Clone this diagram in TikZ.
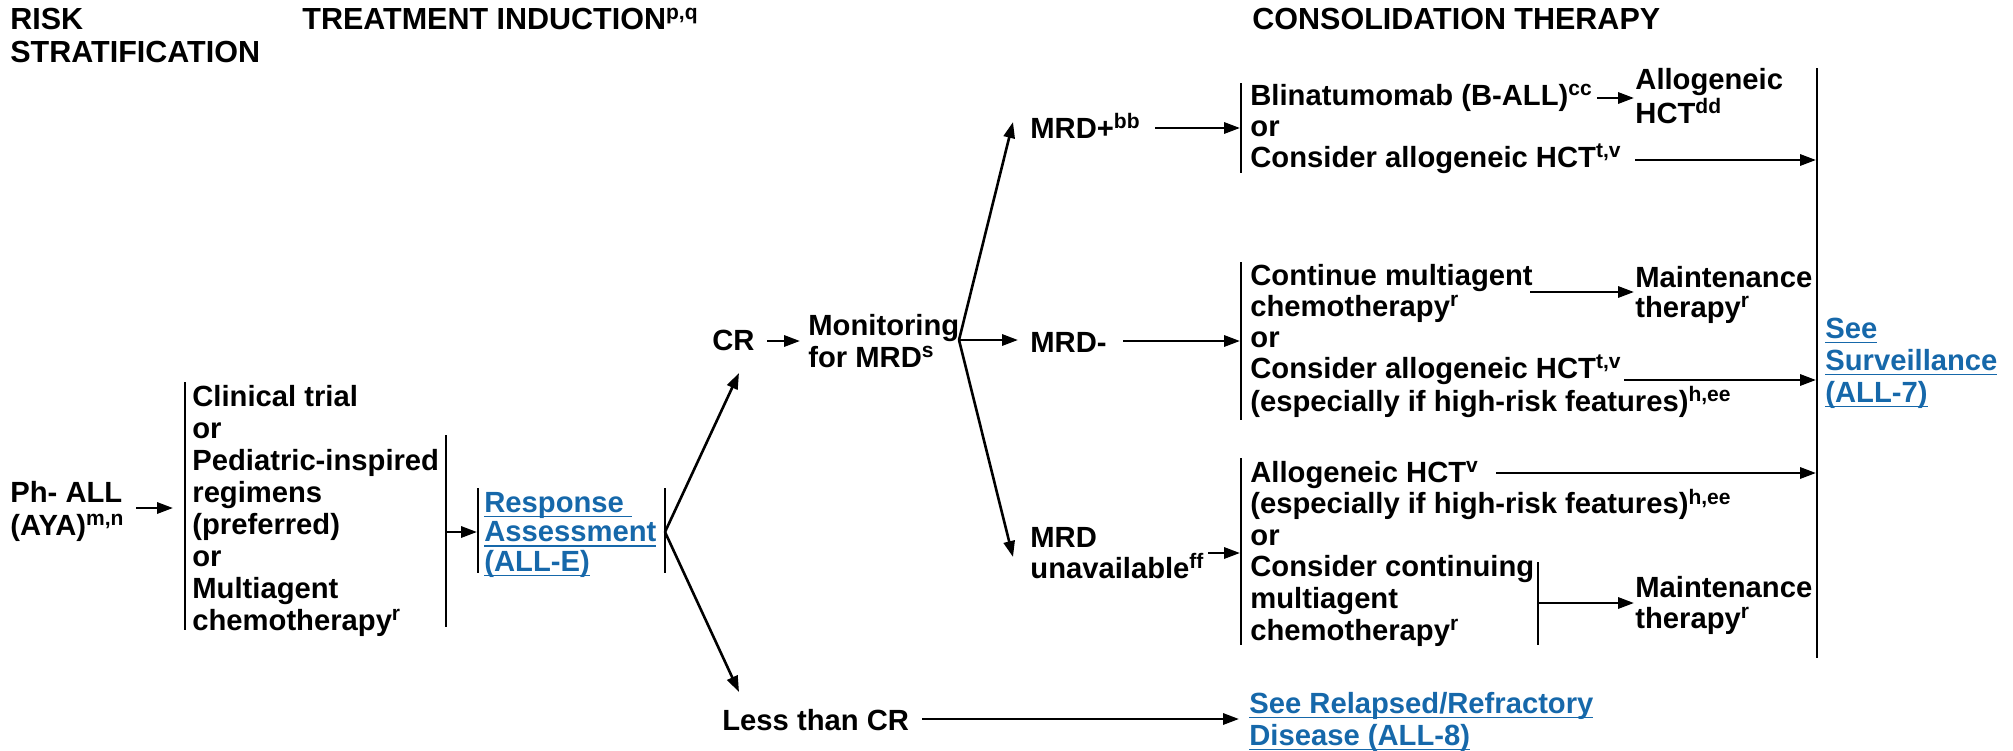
\documentclass[tikz,border=0pt]{standalone}
\usepackage{fontspec}
\setmainfont{Liberation Sans}
\usetikzlibrary{arrows.meta}
\definecolor{lnk}{RGB}{22,104,170}
\newcommand\sps[1]{\raisebox{4.8pt}{\fontsize{10.5}{10.5}\selectfont #1}}
\newcommand\lk[1]{\setbox0\hbox{#1}\rlap{\rule[-2.6pt]{\wd0}{0.75pt}}\box0}
\tikzset{
  txt/.style={font=\bfseries\fontsize{14.6}{15.75}\selectfont, align=left, anchor=base west, inner sep=0pt},
  hdr/.style={font=\bfseries\fontsize{15.25}{16.5}\selectfont, align=left, anchor=base west, inner sep=0pt},
  lnktxt/.style={txt, text=lnk},
  bar/.style={line width=1.3pt},
  arr/.style={line width=1.3pt, -{Triangle[length=8pt,width=5.6pt]}}
}
\begin{document}
% note: base anchor of a multi-line node = baseline of its last line
\begin{tikzpicture}[x=0.5pt,y=-0.5pt]
\useasboundingbox (0,0) rectangle (2013,750);
% headers
\node[hdr] (risk) at (10,62) {RISK\\STRATIFICATION};
\node[hdr] (ind) at (302,29) {TREATMENT INDUCTION\sps{p,q}};
\node[hdr] (cons) at (1252,29) {CONSOLIDATION THERAPY};
% left column
\node[txt,font=\bfseries\fontsize{14.6}{16.5}\selectfont] (ph) at (10,535) {Ph- ALL\\(AYA)\sps{m,n}};
\coordinate (phA) at (136,508);
\coordinate (phB) at (173,508);
\draw[arr] (phA) -- (phB);
\draw[bar] (185,382) coordinate (b1t) -- (185,630) coordinate (b1b);
\node[txt,font=\bfseries\fontsize{14.6}{15.95}\selectfont] (induct) at (192,630)
  {Clinical trial\\or\\Pediatric-inspired\\regimens\\(preferred)\\or\\Multiagent\\chemotherapy\sps{r}};
\draw[bar] (446,435) coordinate (b2t) -- (446,627) coordinate (b2b);
\coordinate (b2m) at (446,532);
\coordinate (b3m) at (477,532);
\draw[arr] (b2m) -- (b3m);
\draw[bar] (478,488) coordinate (b3t) -- (478,573) coordinate (b3b);
\node[lnktxt,font=\bfseries\fontsize{14.6}{14.75}\selectfont] (resp) at (484,571)
  {\lk{Response\ }\\\lk{Assessment}\\\lk{(ALL-E)}};
\draw[bar] (665,488) coordinate (b4t) -- (665,573) coordinate (b4b);
\coordinate (b4m) at (665,532);
% response branches
\node[txt] (cr) at (712,350) {CR};
\coordinate (crtip) at (739,373);
\node[txt] (less) at (722,730) {Less than CR};
\coordinate (lesstip) at (739,692);
\draw[arr] (b4m) -- (crtip);
\draw[arr] (b4m) -- (lesstip);
\coordinate (crA) at (767,341);
\coordinate (crB) at (800,341);
\draw[arr] (crA) -- (crB);
\node[txt,font=\bfseries\fontsize{14.6}{16}\selectfont] (mon) at (808,367) {Monitoring\\for MRD\sps{s}};
\coordinate (mb) at (959,340);
% MRD branches
\node[txt] (mrdp) at (1030,138) {MRD+\sps{bb}};
\node[txt] (mrdn) at (1030,352) {MRD-};
\node[txt,font=\bfseries\fontsize{14.6}{15.5}\selectfont] (mrdu) at (1030,578) {MRD\\unavailable\sps{ff}};
\coordinate (mrdptip) at (1013,122);
\coordinate (mrdntip) at (1018,340);
\coordinate (mrdutip) at (1013,557);
\draw[arr] (mb) -- (mrdptip);
\draw[arr] (mb) -- (mrdntip);
\draw[arr] (mb) -- (mrdutip);
% consolidation bars
\draw[bar] (1241,83) coordinate (c1t) -- (1241,173) coordinate (c1b);
\draw[bar] (1241,262) coordinate (c2t) -- (1241,420) coordinate (c2b);
\draw[bar] (1241,458) coordinate (c3t) -- (1241,645) coordinate (c3b);
\coordinate (mrdpA) at (1155,128);
\coordinate (c1in) at (1240,128);
\coordinate (mrdnA) at (1123,341);
\coordinate (c2in) at (1240,341);
\coordinate (mrduA) at (1208,553);
\coordinate (c3in) at (1240,553);
\draw[arr] (mrdpA) -- (c1in);
\draw[arr] (mrdnA) -- (c2in);
\draw[arr] (mrduA) -- (c3in);
% top block
\node[txt,font=\bfseries\fontsize{14.6}{15.5}\selectfont] (blin) at (1250,167)
  {Blinatumomab (B-ALL)\sps{cc}\\or\\Consider allogeneic HCT\sps{t,v}};
\node[txt,font=\bfseries\fontsize{14.6}{15.5}\selectfont] (allo1) at (1635,123) {Allogeneic\\HCT\sps{dd}};
\coordinate (blinA) at (1597,98);
\coordinate (blinB) at (1634,98);
\draw[arr] (blinA) -- (blinB);
% big bar + surveillance
\draw[bar] (1817,68) coordinate (bbt) -- (1817,658) coordinate (bbb);
\node[lnktxt,font=\bfseries\fontsize{14.6}{16}\selectfont] (surv) at (1825,402)
  {\lk{See}\\\lk{Surveillance}\\\lk{(ALL-7)}};
\coordinate (hct1A) at (1635,160);
\coordinate (bb1) at (1816,160);
\draw[arr] (hct1A) -- (bb1);
% middle block
\node[txt,font=\bfseries\fontsize{14.6}{15.5}\selectfont] (cont) at (1250,411)
  {Continue multiagent\\chemotherapy\sps{r}\\or\\Consider allogeneic HCT\sps{t,v}\\(especially if high-risk features)\sps{h,ee}};
\node[txt,font=\bfseries\fontsize{14.6}{15.25}\selectfont] (maint1) at (1635,317.5) {Maintenance\\therapy\sps{r}};
\coordinate (contA) at (1530,292);
\coordinate (contB) at (1634,292);
\draw[arr] (contA) -- (contB);
\coordinate (hct2A) at (1624,380);
\coordinate (bb2) at (1816,380);
\draw[arr] (hct2A) -- (bb2);
% bottom block
\node[txt,font=\bfseries\fontsize{14.6}{15.8}\selectfont] (allo2) at (1250,640)
  {Allogeneic HCT\sps{v}\\(especially if high-risk features)\sps{h,ee}\\or\\Consider continuing\\multiagent\\chemotherapy\sps{r}};
\coordinate (allo2A) at (1496,473);
\coordinate (bb3) at (1816,473);
\draw[arr] (allo2A) -- (bb3);
\draw[bar] (1538,562) coordinate (ibt) -- (1538,645) coordinate (ibb);
\coordinate (ibm) at (1538,603);
\coordinate (maint2in) at (1634,603);
\draw[arr] (ibm) -- (maint2in);
\node[txt,font=\bfseries\fontsize{14.6}{15.5}\selectfont] (maint2) at (1635,628) {Maintenance\\therapy\sps{r}};
% less than CR
\coordinate (lessA) at (922,719);
\coordinate (relB) at (1239,719);
\draw[arr] (lessA) -- (relB);
\node[lnktxt,font=\bfseries\fontsize{14.6}{16}\selectfont] (rel) at (1249,745)
  {\lk{See Relapsed/Refractory}\\\lk{Disease (ALL-8)}};
\end{tikzpicture}
\end{document}
